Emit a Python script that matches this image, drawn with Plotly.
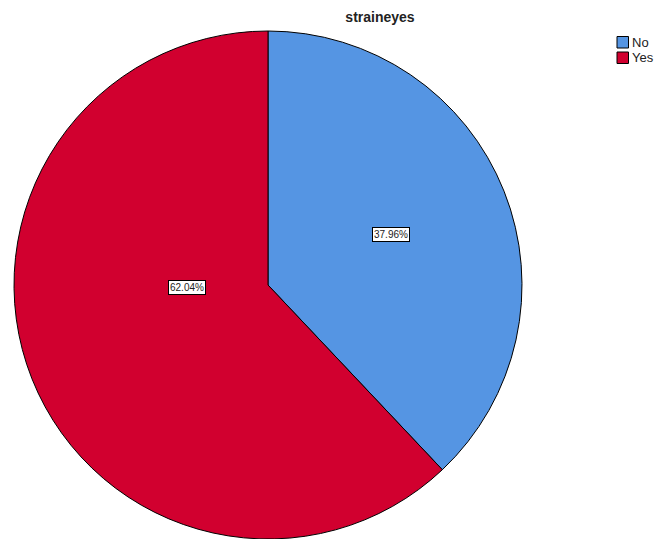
import plotly.graph_objects as go

# Response categories and their share of answers (percent)
categories = ["No", "Yes"]
percentages = [37.96, 62.04]
slice_colors = ["#5595E3", "#D1002F"]
label_texts = [f"{p:.2f}%" for p in percentages]

W, H = 662, 539
FONT = "Liberation Sans, Arial, sans-serif"

fig = go.Figure(
    go.Pie(
        labels=categories,
        values=percentages,
        sort=False,
        direction="clockwise",
        rotation=0,
        marker=dict(colors=slice_colors, line=dict(color="black", width=1)),
        textinfo="none",
        hoverinfo="label+percent",
        domain=dict(x=[14 / W, 522 / W], y=[0, 1 - 31 / H]),
        showlegend=False,
    )
)

# Boxed percentage labels placed over each slice
label_positions = [(391 / W, 1 - 234 / H), (168 / W, 1 - 287 / H)]
for (lx, ly), txt in zip(label_positions, label_texts):
    fig.add_annotation(
        x=lx, y=ly, xref="paper", yref="paper",
        text=txt, showarrow=False,
        font=dict(family=FONT, size=10, color="#222"),
        bgcolor="white", bordercolor="black", borderwidth=1, borderpad=1,
    )

# Compact legend: bordered colour swatches with category names beside them
legend_left, legend_top, row_step, swatch = 617, 36.5, 15.5, 11.5
for i, (name, col) in enumerate(zip(categories, slice_colors)):
    top = legend_top + i * row_step
    fig.add_shape(
        type="rect", xref="paper", yref="paper",
        x0=legend_left / W, x1=(legend_left + swatch) / W,
        y0=1 - top / H, y1=1 - (top + swatch) / H,
        fillcolor=col, line=dict(color="black", width=1),
    )
    fig.add_annotation(
        x=(legend_left + swatch + 1) / W, y=1 - (top + swatch / 2) / H,
        xref="paper", yref="paper", xanchor="left", yanchor="middle",
        text=name, showarrow=False,
        font=dict(family=FONT, size=13, color="#222"),
    )

fig.update_layout(
    width=W, height=H,
    margin=dict(l=0, r=0, t=0, b=0),
    paper_bgcolor="white", plot_bgcolor="white",
    title=dict(
        text="<b>straineyes</b>",
        x=380 / W, xanchor="center", xref="paper",
        y=1 - 17 / H, yanchor="middle", yref="paper",
        font=dict(family=FONT, size=14, color="#222"),
    ),
    showlegend=False,
)

fig.write_html("out.html")
